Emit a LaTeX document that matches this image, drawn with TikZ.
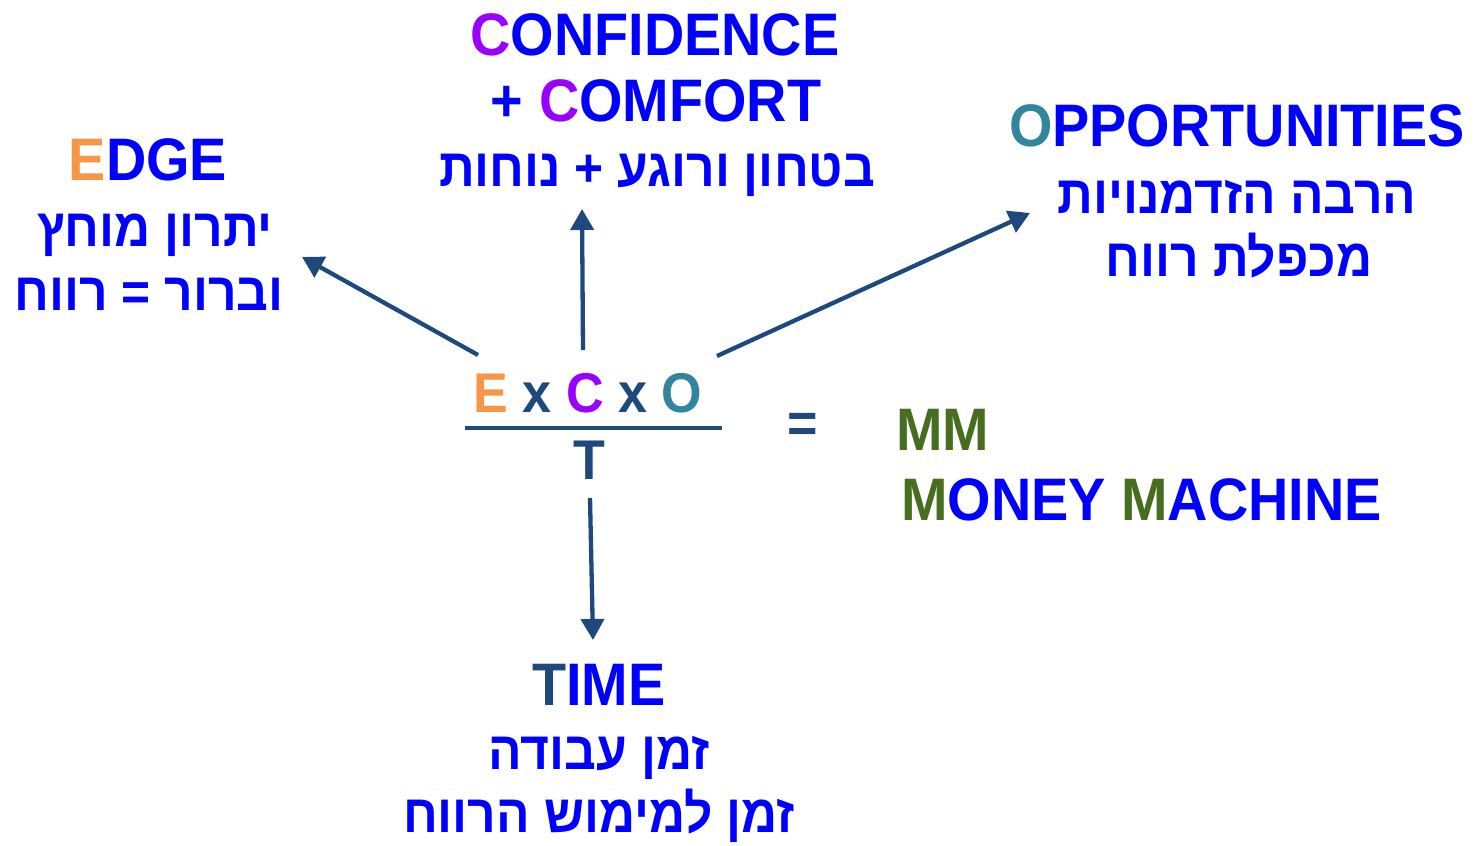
\documentclass[tikz,border=0pt]{standalone}
\usepackage{fontspec}
\setmainfont{Liberation Sans}[FakeStretch=0.93]
\newfontfamily\heb[Script=Hebrew,FakeStretch=0.93]{Liberation Sans}
\TeXXeTstate=1
\usetikzlibrary{arrows.meta}
\definecolor{cblue}{HTML}{0000FF}
\definecolor{corange}{HTML}{F79646}
\definecolor{cpurple}{HTML}{9900FF}
\definecolor{cteal}{HTML}{31859C}
\definecolor{cdark}{HTML}{1F497D}
\definecolor{cgreen}{HTML}{466E1E}
\tikzset{
  txt/.style={inner sep=0pt, anchor=base, text=cblue, font=\bfseries\fontsize{60}{72}\selectfont},
  hebtxt/.style={txt, font=\heb\bfseries\fontsize{53.5}{64}\selectfont},
  formula/.style={txt, text=cdark, font=\bfseries\fontsize{56}{66}\selectfont},
  arr/.style={draw=cdark, line width=4.3pt, -{Triangle[length=21pt,width=23pt]}},
}
\begin{document}
\begin{tikzpicture}[x=1pt,y=-1pt]
\useasboundingbox (0,0) rectangle (1478,846);
% top: confidence
\node[txt] (c1) at (655,55) {{\color{cpurple}C}ONFIDENCE};
\node[txt] (c2) at (656,121) {+ {\color{cpurple}C}OMFORT};
\node[hebtxt] (c3) at (657,186) {\beginR בטחון ורוגע + נוחות\endR};
% left: edge
\node[txt] (e1) at (148,180) {{\color{corange}E}DGE};
\node[hebtxt] (e2) at (155,246) {\beginR יתרון מוחץ\endR};
\node[hebtxt] (e3) at (149,310) {\beginR וברור = רווח\endR};
% right: opportunities
\node[txt] (o1) at (1237,146) {{\color{cteal}O}PPORTUNITIES};
\node[hebtxt] (o2) at (1237,213) {\beginR הרבה הזדמנויות\endR};
\node[hebtxt] (o3) at (1239,276) {\beginR מכפלת רווח\endR};
% formula
\node[formula] (f) at (588,412) {{\color{corange}E} x {\color{cpurple}C} x {\color{cteal}O}};
\coordinate (la) at (465,428);
\coordinate (lb) at (722,428);
\draw[cdark, line width=4.3pt] (la) -- (lb);
\node[formula] (t) at (589,479) {T};
\node[formula, anchor=center] (eq) at (803,428) {=};
\node[txt, anchor=base west, text=cgreen] (mm) at (896,450) {MM};
\node[txt, anchor=base west] (mm2) at (901,520) {{\color{cgreen}M}ONEY {\color{cgreen}M}ACHINE};
% bottom: time
\node[txt] (ti1) at (599,705) {{\color{cdark}T}IME};
\node[hebtxt] (ti2) at (599,769) {\beginR זמן עבודה\endR};
\node[hebtxt] (ti3) at (599,832) {\beginR זמן למימוש הרווח\endR};
% arrows
\coordinate (aL0) at (478,355);
\coordinate (aL1) at (302,257);
\coordinate (aU0) at (583,350);
\coordinate (aU1) at (582,209);
\coordinate (aR0) at (717,356);
\coordinate (aR1) at (1030,213);
\coordinate (aD0) at (590,498);
\coordinate (aD1) at (593,640);
\draw[arr] (aL0) -- (aL1);
\draw[arr] (aU0) -- (aU1);
\draw[arr] (aR0) -- (aR1);
\draw[arr] (aD0) -- (aD1);
\end{tikzpicture}
\end{document}
